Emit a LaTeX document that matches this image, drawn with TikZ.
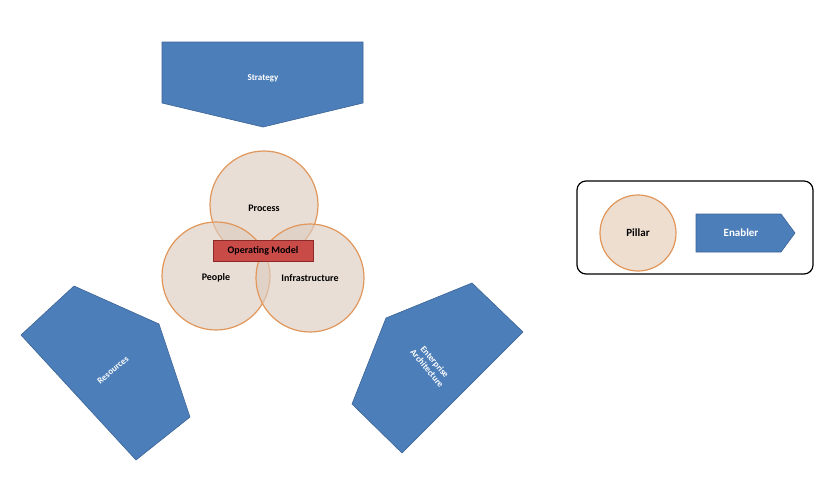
\documentclass[tikz,border=0pt]{standalone}
\usepackage{fontspec}
\setmainfont{Carlito}
\begin{document}
\begin{tikzpicture}[x=1pt,y=-1pt,
 blue/.style={fill={rgb,255:red,76;green,126;blue,185},draw={rgb,255:red,60;green,100;blue,150},line width=0.6pt},
 wtxt/.style={text=white,font=\bfseries\fontsize{9}{10}\selectfont,align=center},
 circ/.style={circle,fill={rgb,255:red,222;green,205;blue,192},fill opacity=0.65,draw={rgb,255:red,225;green,150;blue,90},line width=1.2pt},
 btxt/.style={font=\bfseries\fontsize{10}{11}\selectfont}]
\useasboundingbox (0,0) rectangle (840,483);
\fill[white] (0,0) rectangle (840,483);
% Strategy
\draw[blue] (162,42) -- (363,42) -- (363,103) -- (263,127) -- (162,103) -- cycle;
\node[wtxt] (strategy) at (263,78) {Strategy};
% Resources
\draw[blue] (21,335) -- (74,286) -- (159,324) -- (190,417) -- (136,460) -- cycle;
\node[wtxt,rotate=40] (resources) at (113,370) {Resources};
% Enterprise Architecture
\draw[blue] (352,404) -- (386,318) -- (472,283) -- (523,332) -- (402,453) -- cycle;
\node[wtxt,rotate=-50] (ea) at (431,365) {Enterprise\\Architecture};
% circles
\node[circ,minimum size=108pt] (process) at (264,205) {};
\node[circ,minimum size=108pt] (people) at (216,276) {};
\node[circ,minimum size=108pt] (infra) at (310,278) {};
\node[btxt] at (264,208) {Process};
\node[btxt] at (216,278) {People};
\node[btxt] at (310,278) {Infrastructure};
\node[draw={rgb,255:red,140;green,40;blue,40},fill={rgb,255:red,200;green,75;blue,72},minimum width=100pt,minimum height=21pt,inner sep=0pt,btxt] (om) at (263,251) {Operating Model};
% legend
\draw[line width=1.2pt,rounded corners=9pt] (577,181) rectangle (813,274);
\node[circ,fill={rgb,255:red,238;green,222;blue,208},fill opacity=1,minimum size=76pt] (pillar) at (638,233) {};
\node[btxt,font=\bfseries\fontsize{11}{12}\selectfont] at (638,233) {Pillar};
\draw[blue] (696,214) -- (781,214) -- (795,233) -- (781,252) -- (696,252) -- cycle;
\node[wtxt,font=\bfseries\fontsize{11}{12}\selectfont] (enabler) at (741,233) {Enabler};
\end{tikzpicture}
\end{document}
